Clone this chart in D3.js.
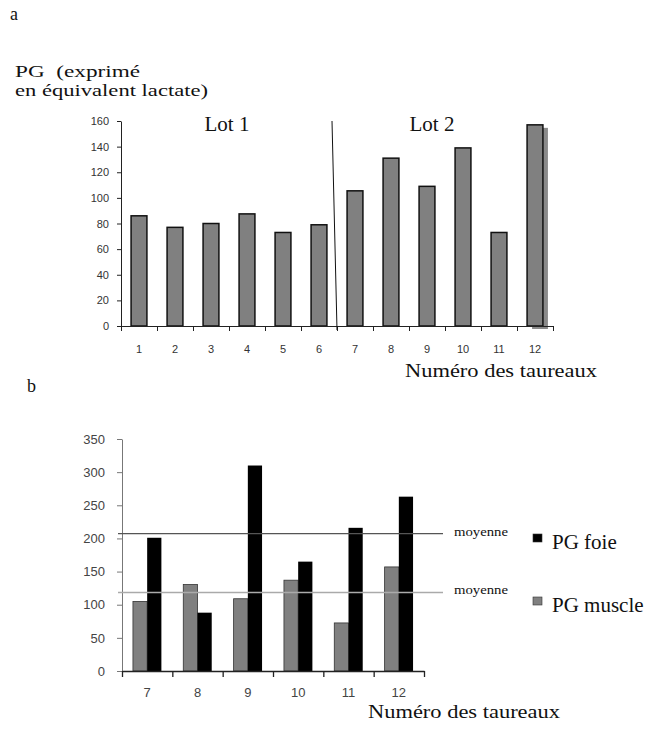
<!DOCTYPE html>
<html>
<head>
<meta charset="utf-8">
<script src="https://cdn.jsdelivr.net/npm/d3@7"></script>
<style>
  body { margin: 0; background: #fff; }
  svg { display: block; }
  .serif { font-family: "Liberation Serif", "Times New Roman", serif; fill: #111; }
  .sans { font-family: "Liberation Sans", Arial, sans-serif; }
</style>
</head>
<body>
<svg id="chart" width="669" height="735"></svg>
<script>
// Chart a : PG for the 12 bulls (lot 1 = 1..6, lot 2 = 7..12)
const bullsA = ["1", "2", "3", "4", "5", "6", "7", "8", "9", "10", "11", "12"];
const pgValues = [86, 77, 80, 87.5, 73, 79, 105.5, 131, 109, 139, 73, 157];
const ticksA = [0, 20, 40, 60, 80, 100, 120, 140, 160];

// Chart b : liver vs muscle for lot 2
const bullsB = ["7", "8", "9", "10", "11", "12"];
const pgMuscle = [105, 130.5, 109, 137, 72.5, 157];
const pgFoie = [201, 88, 310, 165, 216, 263];
const ticksB = [0, 50, 100, 150, 200, 250, 300, 350];

const svg = d3.select("#chart");

// ---------- chart a ----------
const xa = d3.scaleBand().domain(bullsA).range([121, 553]);
const xaLin = d3.scaleLinear().domain([0, bullsA.length]).range([121, 553]);
const ya = d3.scaleLinear().domain([0, 160]).range([326, 121]);

svg.append("text").attr("class", "serif").attr("x", 10).attr("y", 20)
    .style("font-size", "18px").text("a");
svg.append("text").attr("class", "serif").attr("x", 15).attr("y", 77)
    .style("font-size", "17px").attr("textLength", 125).attr("lengthAdjust", "spacingAndGlyphs")
    .style("white-space", "pre")
    .text("PG  (exprimé");
svg.append("text").attr("class", "serif").attr("x", 15).attr("y", 96)
    .style("font-size", "17px").attr("textLength", 193).attr("lengthAdjust", "spacingAndGlyphs")
    .text("en équivalent lactate)");

// y axis
svg.append("g")
    .attr("transform", "translate(121,0)")
    .call(d3.axisLeft(ya).tickValues(ticksA).tickSize(4).tickSizeOuter(0))
    .call(g => g.selectAll("text").attr("class", "sans").style("font-size", "11px").attr("fill", "#333").attr("x", -12))
    .call(g => g.selectAll("line,path").attr("stroke", "#222"));

// bars (bar 12 carries a little drop shadow in the original)
const bwA = xa.bandwidth() * 0.44;
const offA = (xa.bandwidth() - bwA) / 2;
svg.append("rect")
    .attr("x", xa("12") + offA + 5).attr("y", ya(pgValues[11]) + 3)
    .attr("width", bwA).attr("height", ya(0) - ya(pgValues[11]))
    .attr("fill", "#8a8a8a");
svg.append("g").selectAll("rect")
    .data(bullsA)
    .join("rect")
    .attr("x", d => xa(d) + offA)
    .attr("y", (d, i) => ya(pgValues[i]))
    .attr("width", bwA)
    .attr("height", (d, i) => ya(0) - ya(pgValues[i]))
    .attr("fill", "#808080")
    .attr("stroke", "#111")
    .attr("stroke-width", 1.5);

// x axis: ticks on category boundaries, labels at centres
svg.append("g")
    .attr("transform", `translate(0,${ya(0)})`)
    .call(d3.axisBottom(xaLin).ticks(bullsA.length).tickFormat("").tickSize(5).tickSizeOuter(0))
    .call(g => g.selectAll("line,path").attr("stroke", "#222"));
svg.append("g")
    .attr("transform", `translate(0,${ya(0)})`)
    .call(d3.axisBottom(xa).tickSize(0))
    .call(g => g.select(".domain").remove())
    .call(g => g.selectAll("text").attr("class", "sans").style("font-size", "11px").attr("fill", "#333").attr("dy", "2.2em"));

// separator between the two lots
svg.append("line")
    .attr("x1", xa("7") - 5).attr("y1", ya(160))
    .attr("x2", xa("7")).attr("y2", ya(0) + 4)
    .attr("stroke", "#111").attr("stroke-width", 1);

svg.append("text").attr("class", "serif").attr("x", 227).attr("y", 131)
    .attr("text-anchor", "middle").style("font-size", "21px").text("Lot 1");
svg.append("text").attr("class", "serif").attr("x", 432).attr("y", 131)
    .attr("text-anchor", "middle").style("font-size", "21px").text("Lot 2");

svg.append("text").attr("class", "serif").attr("x", 405).attr("y", 377)
    .style("font-size", "18px").attr("textLength", 192).attr("lengthAdjust", "spacingAndGlyphs")
    .text("Numéro des taureaux");

// ---------- chart b ----------
const xb = d3.scaleBand().domain(bullsB).range([122, 424]);
const xbLin = d3.scaleLinear().domain([0, bullsB.length]).range([122, 424]);
const yb = d3.scaleLinear().domain([0, 350]).range([671, 439]);
const sub = d3.scaleBand().domain(["muscle", "foie"]).range([0, xb.bandwidth() * 0.565]);
const subOff = (xb.bandwidth() - sub.range()[1]) / 2;

svg.append("text").attr("class", "serif").attr("x", 27).attr("y", 392)
    .style("font-size", "18px").text("b");

svg.append("g")
    .attr("transform", "translate(122,0)")
    .call(d3.axisLeft(yb).tickValues(ticksB).tickSize(5).tickSizeOuter(0))
    .call(g => g.selectAll("text").attr("class", "sans").style("font-size", "13px").attr("fill", "#444").attr("x", -17))
    .call(g => g.selectAll("line,path").attr("stroke", "#777"));

const groups = svg.append("g").selectAll("g")
    .data(bullsB)
    .join("g")
    .attr("transform", d => `translate(${xb(d) + subOff},0)`);
groups.append("rect")
    .attr("x", sub("muscle"))
    .attr("y", (d, i) => yb(pgMuscle[i]))
    .attr("width", sub.bandwidth())
    .attr("height", (d, i) => yb(0) - yb(pgMuscle[i]))
    .attr("fill", "#808080").attr("stroke", "#333").attr("stroke-width", 0.8);
groups.append("rect")
    .attr("x", sub("foie"))
    .attr("y", (d, i) => yb(pgFoie[i]))
    .attr("width", sub.bandwidth())
    .attr("height", (d, i) => yb(0) - yb(pgFoie[i]))
    .attr("fill", "#000");

svg.append("g")
    .attr("transform", `translate(0,${yb(0)})`)
    .call(d3.axisBottom(xbLin).ticks(bullsB.length).tickFormat("").tickSize(6).tickSizeOuter(0))
    .call(g => g.selectAll("line,path").attr("stroke", "#222").attr("stroke-width", 1.3));
svg.append("g")
    .attr("transform", `translate(0,${yb(0)})`)
    .call(d3.axisBottom(xb).tickSize(0))
    .call(g => g.select(".domain").remove())
    .call(g => g.selectAll("text").attr("class", "sans").style("font-size", "13px").attr("fill", "#444").attr("dy", "1.8em"));

// mean lines
const means = [
  {v: d3.mean(pgFoie), color: "#555", w: 1.3},
  {v: d3.mean(pgMuscle), color: "#aaa", w: 1.6}
];
means.forEach(m => {
  svg.append("line")
      .attr("x1", 118).attr("x2", 443)
      .attr("y1", yb(m.v)).attr("y2", yb(m.v))
      .attr("stroke", m.color).attr("stroke-width", m.w);
  svg.append("text").attr("class", "serif")
      .attr("x", 454).attr("y", yb(m.v) + 2)
      .style("font-size", "12px").attr("textLength", 54).attr("lengthAdjust", "spacingAndGlyphs")
      .text("moyenne");
});

// legend
const legend = [
  {label: "PG foie", color: "#000", y: 534},
  {label: "PG muscle", color: "#808080", y: 597}
];
legend.forEach(l => {
  svg.append("rect").attr("x", 533).attr("y", l.y).attr("width", 9).attr("height", 8)
      .attr("fill", l.color).attr("stroke", "#333").attr("stroke-width", 0.6);
  svg.append("text").attr("class", "serif").attr("x", 552).attr("y", l.y + 15)
      .style("font-size", "21px").text(l.label);
});

svg.append("text").attr("class", "serif").attr("x", 368).attr("y", 718)
    .style("font-size", "18px").attr("textLength", 192).attr("lengthAdjust", "spacingAndGlyphs")
    .text("Numéro des taureaux");
</script>
</body>
</html>
